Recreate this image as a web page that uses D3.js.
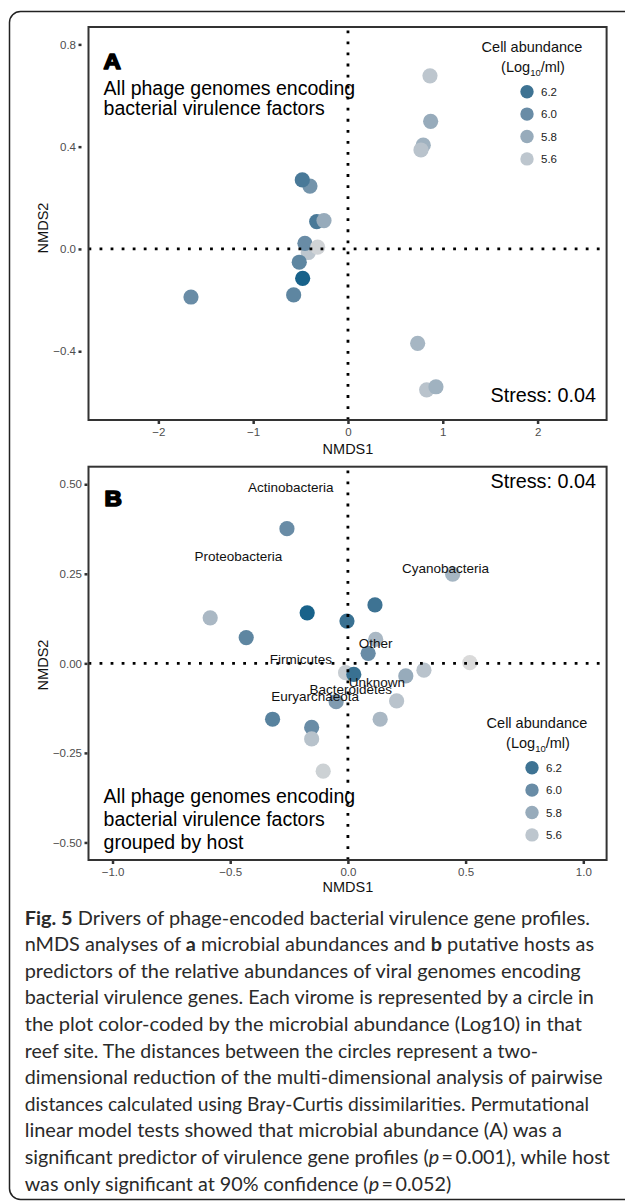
<!DOCTYPE html>
<html><head><meta charset="utf-8">
<script src="https://cdn.jsdelivr.net/npm/d3@7"></script>
<style>body{margin:0;background:#fff}svg{display:block}</style>
</head><body>
<svg id="chart" width="625" height="1202"></svg>
<script>
// ---------- DATA ----------
// Panel A: NMDS coordinates and cell abundance (Log10/ml)
const panelAX = [-0.401, -0.482, -0.330, -0.253, -0.419, -0.454, -0.320, -0.514, -0.478, -0.573, -1.656, 0.865, 0.872, 0.794, 0.770, 0.735, 0.830, 0.928];
const panelAY = [0.246, 0.270, 0.107, 0.111, -0.014, 0.022, 0.007, -0.052, -0.115, -0.180, -0.188, 0.677, 0.499, 0.406, 0.387, -0.369, -0.551, -0.539];
const panelAAbund = [5.95, 6.15, 6.15, 5.8, 5.6, 6.0, 5.5, 6.05, 6.35, 6.05, 6.0, 5.6, 5.8, 5.75, 5.62, 5.72, 5.62, 5.75];

// Panel B
const panelBX = [-0.259, 0.445, 0.115, -0.173, -0.585, -0.004, -0.432, 0.118, 0.086, 0.518, -0.010, 0.025, 0.246, 0.323, 0.207, -0.050, 0.137, -0.320, -0.154, -0.154, -0.105];
const panelBY = [0.376, 0.249, 0.163, 0.141, 0.127, 0.118, 0.072, 0.067, 0.028, 0.002, -0.026, -0.031, -0.035, -0.019, -0.105, -0.107, -0.156, -0.156, -0.179, -0.211, -0.301];
const panelBAbund = [6.0, 5.72, 6.2, 6.35, 5.7, 6.22, 6.05, 5.7, 6.0, 5.45, 5.55, 6.22, 5.8, 5.62, 5.62, 5.9, 5.7, 6.08, 6.0, 5.63, 5.52];

// Host labels (panel B)
const hostNames = ["Actinobacteria", "Proteobacteria", "Cyanobacteria", "Other", "Firmicutes", "Unknown", "Bacteroidetes", "Euryarchaeota"];
const hostX = [-0.243, -0.465, 0.415, 0.118, -0.200, 0.123, 0.012, -0.139];
const hostY = [0.493, 0.300, 0.267, 0.056, 0.011, -0.053, -0.071, -0.093];

// Legend and ticks
const legendValues = [6.2, 6.0, 5.8, 5.6];
const legendLabels = ["6.2", "6.0", "5.8", "5.6"];
const panelAXTicks = [-2, -1, 0, 1, 2];
const panelAYTicks = [-0.4, 0.0, 0.4, 0.8];
const panelBXTicks = [-1.0, -0.5, 0.0, 0.5, 1.0];
const panelBYTicks = [-0.50, -0.25, 0.00, 0.25, 0.50];

const stressText = "Stress: 0.04";
const titleA = ["All phage genomes encoding", "bacterial virulence factors"];
const titleB = ["All phage genomes encoding", "bacterial virulence factors", "grouped by host"];

// ---------- DRAW ----------
const svg = d3.select("#chart");
const FONT = "'Liberation Sans', Arial, Helvetica, sans-serif";
svg.append("rect").attr("width", 625).attr("height", 1202).attr("fill", "#fff");
svg.append("rect").attr("x", 9.5).attr("y", 11.5).attr("width", 680).attr("height", 1188)
  .attr("rx", 11).attr("fill", "none").attr("stroke", "#222").attr("stroke-width", 1.5);

const color = d3.scaleLinear()
  .domain([5.45, 5.6, 5.8, 6.0, 6.2, 6.35])
  .range(["#dadada", "#bdc6ce", "#97abbb", "#698ca6", "#3e7393", "#18628a"])
  .clamp(true);

function drawPanel(o) {
  const g = svg.append("g");
  const x = d3.scaleLinear().domain(o.xDom).range([o.left, o.right]);
  const y = d3.scaleLinear().domain(o.yDom).range([o.bottom, o.top]);

  // points
  g.append("g").selectAll("circle").data(d3.range(o.xs.length)).join("circle")
    .attr("cx", i => x(o.xs[i])).attr("cy", i => y(o.ys[i])).attr("r", 7.6)
    .attr("fill", i => color(o.ab[i]));

  // host labels
  if (o.labels) {
    g.append("g").selectAll("text").data(d3.range(o.labels.length)).join("text")
      .attr("x", i => x(o.lx[i])).attr("y", i => y(o.ly[i]) + 4.8)
      .attr("text-anchor", "middle").attr("font-family", FONT).attr("font-size", 13.5)
      .attr("fill", "#111").text(i => o.labels[i]);
  }

  // dotted zero lines
  g.append("path").attr("d", `M${x(0)},${o.bottom}V${o.top}`)
    .attr("stroke", "#000").attr("stroke-width", 2.8).attr("stroke-dasharray", "2.8 8.25").attr("fill", "none");
  g.append("path").attr("d", `M${o.left},${y(0)}H${o.right}`)
    .attr("stroke", "#000").attr("stroke-width", 2.8).attr("stroke-dasharray", "2.8 8.25").attr("fill", "none");

  // frame
  g.append("rect").attr("x", o.left).attr("y", o.top).attr("width", o.right - o.left).attr("height", o.bottom - o.top)
    .attr("fill", "none").attr("stroke", "#333").attr("stroke-width", 2);

  // axes
  const ay = g.append("g").attr("transform", `translate(${o.yAxisX},0)`)
    .call(d3.axisLeft(y).tickValues(o.yTicks).tickSize(3).tickPadding(2.5).tickFormat(d3.format(o.yFmt)));
  const ax = g.append("g").attr("transform", `translate(0,${o.bottom + 1})`)
    .call(d3.axisBottom(x).tickValues(o.xTicks).tickSize(3).tickPadding(3.8).tickFormat(d3.format(o.xFmt)));
  [ay, ax].forEach(a => {
    a.select(".domain").remove();
    a.selectAll(".tick line").attr("stroke", "#333").attr("stroke-width", 2.5);
    a.selectAll(".tick text").attr("font-family", FONT).attr("font-size", 11.5).attr("fill", "#4d4d4d");
  });

  // axis titles
  g.append("text").attr("x", x(0)).attr("y", o.xTitleY).attr("text-anchor", "middle")
    .attr("font-family", FONT).attr("font-size", 14.5).attr("fill", "#111").text("NMDS1");
  g.append("text").attr("transform", `translate(47.5,${o.yTitleY}) rotate(-90)`)
    .attr("text-anchor", "middle").attr("font-family", FONT).attr("font-size", 14.5).attr("fill", "#111").text("NMDS2");

  // panel letter
  g.append("text").attr("transform", `translate(${o.letterX},${o.letterY}) scale(1.12,1)`)
    .attr("font-family", FONT).attr("font-weight", "bold").attr("font-size", 21.5)
    .attr("stroke", "#000").attr("stroke-width", 1.6).attr("stroke-linejoin", "round")
    .attr("fill", "#000").text(o.letter);

  // description
  g.append("g").selectAll("text").data(o.title).join("text")
    .attr("x", 103.6).attr("y", (d, i) => o.titleY + i * o.titleDy)
    .attr("font-family", FONT).attr("font-size", 19.5).attr("fill", "#000").text(d => d);

  // stress
  g.append("text").attr("x", 596).attr("y", o.stressY).attr("text-anchor", "end")
    .attr("font-family", FONT).attr("font-size", 19.8).attr("fill", "#000").text(stressText);

  // legend
  const lg = g.append("g");
  lg.append("text").attr("x", o.legX + 5).attr("y", o.legY).attr("text-anchor", "middle")
    .attr("font-family", FONT).attr("font-size", 14.5).attr("fill", "#111").text("Cell abundance");
  const t2 = lg.append("text").attr("x", o.legX + 6).attr("y", o.legY + 20.3).attr("text-anchor", "middle")
    .attr("font-family", FONT).attr("font-size", 14.5).attr("fill", "#111");
  t2.append("tspan").text("(Log");
  t2.append("tspan").attr("font-size", 9.5).attr("dy", 4).text("10");
  t2.append("tspan").attr("dy", -4).text("/ml)");
  lg.selectAll("circle").data(legendValues).join("circle")
    .attr("cx", o.legX).attr("cy", (d, i) => o.legY + 40.2 + i * 22.4).attr("r", 6.7)
    .attr("fill", d => color(d));
  lg.selectAll("text.lab").data(legendLabels).join("text").attr("class", "lab")
    .attr("x", o.legX + 14).attr("y", (d, i) => o.legY + 40.2 + i * 22.4 + 4.1)
    .attr("font-family", FONT).attr("font-size", 11.5).attr("fill", "#222").text(d => d);
}

drawPanel({
  left: 88.5, right: 606.6, top: 27, bottom: 420,
  xDom: [-2.737, 2.728], yDom: [-0.669, 0.868],
  xs: panelAX, ys: panelAY, ab: panelAAbund,
  xTicks: panelAXTicks, yTicks: panelAYTicks, xFmt: "d", yFmt: ".1f",
  yAxisX: 81.5, xTitleY: 453.5, yTitleY: 228,
  letter: "A", letterX: 103.5, letterY: 68.5,
  title: titleA, titleY: 94.5, titleDy: 20.6,
  stressY: 401.7,
  legX: 527, legY: 51.5
});

drawPanel({
  left: 88.5, right: 606.6, top: 466.7, bottom: 860,
  xDom: [-1.102, 1.099], yDom: [-0.549, 0.549],
  xs: panelBX, ys: panelBY, ab: panelBAbund,
  labels: hostNames, lx: hostX, ly: hostY,
  xTicks: panelBXTicks, yTicks: panelBYTicks, xFmt: ".1f", yFmt: ".2f",
  yAxisX: 87.5, xTitleY: 892, yTitleY: 665,
  letter: "B", letterX: 104.5, letterY: 505.7,
  title: titleB, titleY: 803, titleDy: 23,
  stressY: 488.3,
  legX: 532, legY: 727.5
});

// ---------- CAPTION ----------
const captionLines = [
  [["b", "Fig. 5"], ["n", " Drivers of phage-encoded bacterial virulence gene profiles."]],
  [["n", "nMDS analyses of "], ["b", "a"], ["n", " microbial abundances and "], ["b", "b"], ["n", " putative hosts as"]],
  [["n", "predictors of the relative abundances of viral genomes encoding"]],
  [["n", "bacterial virulence genes. Each virome is represented by a circle in"]],
  [["n", "the plot color-coded by the microbial abundance (Log10) in that"]],
  [["n", "reef site. The distances between the circles represent a two-"]],
  [["n", "dimensional reduction of the multi-dimensional analysis of pairwise"]],
  [["n", "distances calculated using Bray-Curtis dissimilarities. Permutational"]],
  [["n", "linear model tests showed that microbial abundance (A) was a"]],
  [["n", "significant predictor of virulence gene profiles ("], ["i", "p"], ["n", "\u2009=\u20090.001), while host"]],
  [["n", "was only significant at 90% confidence ("], ["i", "p"], ["n", "\u2009=\u20090.052)"]]
];
const captionWidths = [565.3, 569.3, 556, 569.2, 557.2, 513.3, 577.9, 564.3, 537.3, 585.1, 426.5];
const cap = svg.append("g");
captionLines.forEach((parts, i) => {
  const t = cap.append("text").attr("x", 24.7).attr("y", 924.5 + i * 26.6)
    .attr("font-family", "Lato, 'Open Sans', sans-serif").attr("font-size", 19.5).attr("fill", "#2a2a2a")
    .attr("textLength", captionWidths[i]).attr("lengthAdjust", "spacingAndGlyphs");
  parts.forEach(([k, s]) => {
    const ts = t.append("tspan").text(s);
    if (k === "b") ts.attr("font-weight", "bold");
    if (k === "i") ts.attr("font-style", "italic");
  });
});
</script>
</body></html>
